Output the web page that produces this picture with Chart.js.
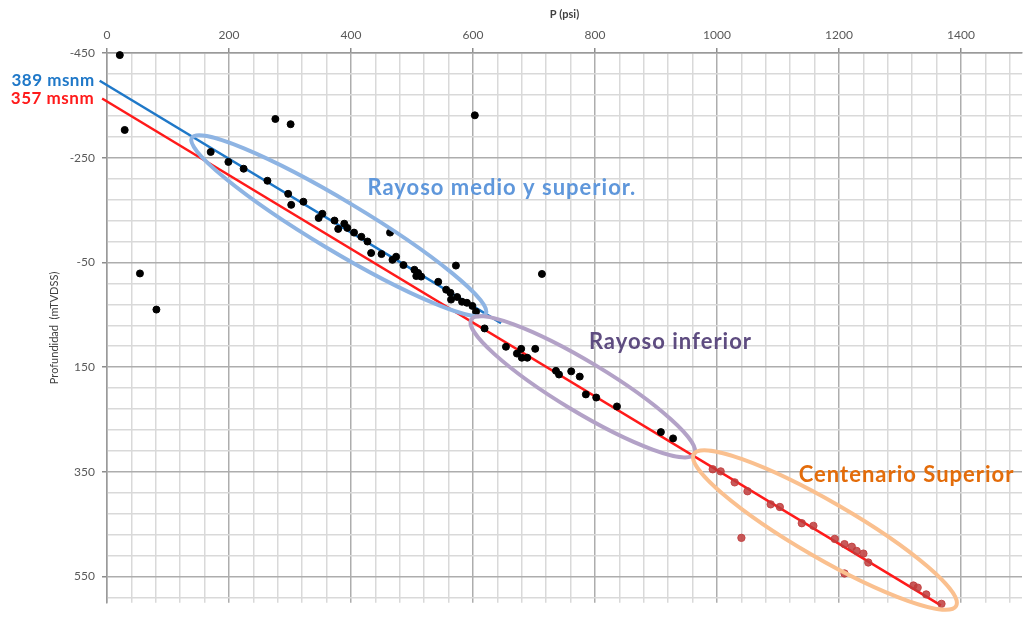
<!DOCTYPE html>
<html lang="es">
<head>
    <meta charset="UTF-8">
    <title>Presión vs Profundidad</title>
    <script src="https://cdn.jsdelivr.net/npm/chart.js"></script>
    <style>
        body { margin: 0; background: #fff; }
        #wrap { width: 1027px; height: 617px; position: relative; }
    </style>
</head>
<body>
    <div id="wrap"><canvas id="presChart"></canvas></div>

    <script>
        // black points: P (psi), depth (mTVDSS)
        const blackP = [21, 29, 276, 301, 603, 54, 81, 170, 199, 224, 263, 297, 302, 322, 347, 353,
            373, 379, 389, 394, 405, 417, 427, 464, 433, 450, 468, 474, 486, 504, 510, 507, 515, 543,
            572, 556, 563, 564, 574, 582, 590, 599, 605, 619, 713, 654, 679, 672, 680, 689, 702, 736,
            741, 761, 775, 785, 802, 836, 908, 928];
        const blackD = [-446, -303, -324, -314, -331, -29, 40, -261, -242, -229, -206, -181, -160, -166, -135, -143,
            -130, -114, -124, -116, -107, -99, -90, -107, -68, -66, -55, -61, -45, -36, -30, -24, -23, -13,
            -44, 2, 8, 21, 16, 25, 27, 33, 44, 76, -28, 111, 115, 124, 132, 132, 115, 157,
            164, 158, 168, 202, 208, 225, 274, 286];

        // Centenario Superior points
        const redP = [993, 1006, 1029, 1050, 1040, 1088, 1103, 1139, 1158, 1193, 1209, 1221, 1229, 1240,
            1248, 1209, 1322, 1329, 1343, 1368];
        const redD = [345, 349, 370, 387, 476, 412, 417, 448, 453, 478, 488, 493, 501, 506,
            523, 544, 567, 571, 584, 602];

        // gradient lines (end points)
        const blueLineP = [-12, 646];
        const blueLineD = [-397, 66];
        const redLineP = [-8, 1367];
        const redLineD = [-363, 605];
        const lineLabels = ['389 msnm', '357 msnm'];

        // axis ticks
        const xTicks = [0, 200, 400, 600, 800, 1000, 1200, 1400];
        const yTicks = [-450, -250, -50, 150, 350, 550];

        const toXY = (xs, ys) => xs.map((x, i) => ({ x: x, y: ys[i] }));

        const zones = [
            { name: 'Rayoso medio y superior.', color: '#5F97DB', ring: '#8EB4E3',
              a: [139, -288], b: [621, 48], half: 25, text: [427, -192] },
            { name: 'Rayoso inferior', color: '#5E4C80', ring: '#B3A2C7',
              a: [597, 59], b: [963, 316], half: 25, text: [790, 101] },
            { name: 'Centenario Superior', color: '#E36C0A', ring: '#FAC08F',
              a: [962, 316], b: [1392, 606], half: 28, text: [1134, 355] }
        ];

        const zonePlugin = {
            id: 'zones',
            afterDatasetsDraw(chart) {
                const ctx = chart.ctx, sx = chart.scales.x, sy = chart.scales.y;
                ctx.save();
                zones.forEach(z => {
                    const x1 = sx.getPixelForValue(z.a[0]), y1 = sy.getPixelForValue(z.a[1]);
                    const x2 = sx.getPixelForValue(z.b[0]), y2 = sy.getPixelForValue(z.b[1]);
                    const r = Math.hypot(x2 - x1, y2 - y1) / 2;
                    ctx.beginPath();
                    ctx.ellipse((x1 + x2) / 2, (y1 + y2) / 2, r, z.half, Math.atan2(y2 - y1, x2 - x1), 0, Math.PI * 2);
                    ctx.strokeStyle = z.ring;
                    ctx.lineWidth = 4;
                    ctx.stroke();
                });
                ctx.font = 'bold 22px Lato, sans-serif';
                ctx.letterSpacing = '1px';
                ctx.textBaseline = 'middle';
                ctx.textAlign = 'left';
                zones.forEach(z => {
                    ctx.fillStyle = z.color;
                    ctx.fillText(z.name, sx.getPixelForValue(z.text[0]), sy.getPixelForValue(z.text[1]));
                });
                // labels at start of the gradient lines
                ctx.font = 'bold 17px Lato, sans-serif';
                ctx.letterSpacing = '0.5px';
                ctx.textAlign = 'right';
                ctx.fillStyle = '#1F78C8';
                ctx.fillText(lineLabels[0], sx.getPixelForValue(blueLineP[0]) - 5, sy.getPixelForValue(blueLineD[0]));
                ctx.fillStyle = '#FF1A1A';
                ctx.fillText(lineLabels[1], sx.getPixelForValue(redLineP[0]) - 8, sy.getPixelForValue(redLineD[0]));
                ctx.restore();
            }
        };

        const stepTicks = (from, to, step) => {
            const t = [];
            for (let v = from; v <= to; v += step) t.push({ value: v });
            return t;
        };

        new Chart(document.getElementById('presChart'), {
            type: 'scatter',
            data: {
                datasets: [
                    {
                        type: 'line', data: toXY(blueLineP, blueLineD), borderColor: '#1F78C8',
                        borderWidth: 2.5, pointRadius: 0, clip: false, order: 3
                    },
                    {
                        type: 'line', data: toXY(redLineP, redLineD), borderColor: '#FF1A1A',
                        borderWidth: 2.5, pointRadius: 0, clip: false, order: 2
                    },
                    {
                        data: toXY(blackP, blackD), backgroundColor: '#000', borderColor: '#000',
                        pointRadius: 3.5, clip: false, order: 1
                    },
                    {
                        data: toXY(redP, redD), backgroundColor: 'rgba(192,60,60,0.85)',
                        borderColor: 'rgba(192,60,60,0.85)', pointRadius: 3.7, clip: false, order: 0
                    }
                ]
            },
            options: {
                responsive: true,
                maintainAspectRatio: false,
                animation: false,
                layout: { padding: { left: 45, top: 0, right: 3, bottom: 13 } },
                plugins: { legend: { display: false }, tooltip: { enabled: false } },
                scales: {
                    x: {
                        type: 'linear', position: 'top', min: 0, max: 1500,
                        afterBuildTicks: s => { s.ticks = stepTicks(0, 1480, 40); },
                        afterFit: s => { s.height = 53; },
                        ticks: {
                            autoSkip: false, maxRotation: 0, padding: 6,
                            color: '#595959', font: { family: 'Lato', size: 12 },
                            callback: v => xTicks.includes(v) ? v : ''
                        },
                        grid: {
                            tickLength: 5, lineWidth: 1.5,
                            color: c => xTicks.includes(c.tick.value) ? '#ADADAD' : '#D9D9D9',
                            tickColor: c => xTicks.includes(c.tick.value) ? '#8C8C8C' : 'rgba(0,0,0,0)'
                        },
                        border: { color: '#9A9A9A', width: 1.5 },
                        title: {
                            display: true, text: 'P (psi)', color: '#404040',
                            font: { family: 'Lato', size: 11, weight: 'bold' }, padding: { top: 8, bottom: 0 }
                        }
                    },
                    y: {
                        type: 'linear', reverse: true, min: -450, max: 600,
                        afterBuildTicks: s => { s.ticks = stepTicks(-450, 590, 40); },
                        afterFit: s => { s.width = 62; },
                        ticks: {
                            autoSkip: false, padding: 7,
                            color: '#595959', font: { family: 'Lato', size: 12 },
                            callback: v => yTicks.includes(v) ? v : ''
                        },
                        grid: {
                            tickLength: 5, lineWidth: 1.5,
                            color: c => yTicks.includes(c.tick.value) ? '#ADADAD' : '#D9D9D9',
                            tickColor: c => yTicks.includes(c.tick.value) ? '#8C8C8C' : 'rgba(0,0,0,0)'
                        },
                        border: { color: '#9A9A9A', width: 1.5 },
                        title: {
                            display: true, text: 'Profundidad  (mTVDSS)', color: '#404040',
                            font: { family: 'Lato', size: 11 }, padding: { top: 3, bottom: 0 }
                        }
                    }
                }
            },
            plugins: [zonePlugin]
        });
    </script>
</body>
</html>
